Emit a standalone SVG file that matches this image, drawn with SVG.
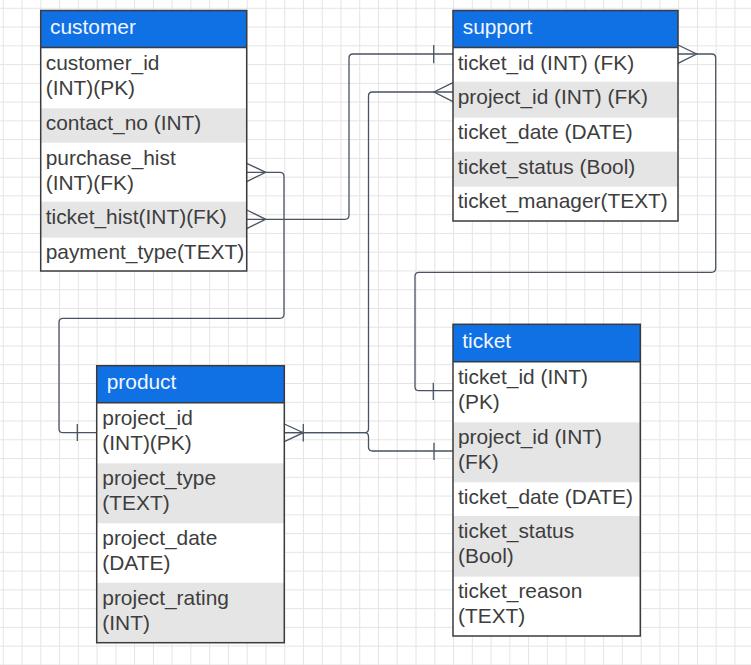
<svg xmlns="http://www.w3.org/2000/svg" width="751" height="665" viewBox="0 0 751 665">
<style>
.hd{fill:#1071e5}
.gr{fill:#e5e5e5}
.box{fill:none;stroke:#3b3b3b;stroke-width:1.5}
.hl{stroke:#3b3b3b;stroke-width:1.5}
.t{font-family:"Liberation Sans",Arial,sans-serif;font-size:20.9px;fill:#3d3d3d}
.h{font-family:"Liberation Sans",Arial,sans-serif;font-size:20.9px;fill:#f2f6ff}
.c{fill:none;stroke:#4a5361;stroke-width:1.3}
</style>
<defs>
<pattern id="grid" patternUnits="userSpaceOnUse" x="2.8" y="7.8" width="18.76" height="18.76">
<path d="M0.5 0V18.76M0 0.5H18.76" fill="none" stroke="#e4e4e4" stroke-width="1"/>
</pattern>
</defs>
<rect width="751" height="665" fill="#fff"/>
<rect width="751" height="665" fill="url(#grid)"/>

<g id="connectors">
<path class="c" d="M246.7 172.3H280Q284 172.3 284 176.3V314.3Q284 318.3 280 318.3H63Q59 318.3 59 322.3V428.7Q59 432.7 63 432.7H96.7"/>
<path class="c" d="M246.7 163.3L265.7 172.3L246.7 181.7M77.3 424V441"/>
<path class="c" d="M246.7 219.3H345Q349 219.3 349 215.3V58Q349 54 353 54H453"/>
<path class="c" d="M246.7 210L265.7 219.3L246.7 228.7M433.7 45V63.3"/>
<path class="c" d="M284.3 432.7H364.5Q368.5 432.7 368.5 428.7V96Q368.5 92 372.5 92H453"/>
<path class="c" d="M453 82.7L434 92L453 101.7M284.3 424L303.3 432.7L284.3 441.7M303.3 424V441.5"/>
<path class="c" d="M284.3 432.7H364.5Q368.5 432.7 368.5 436.7V447Q368.5 451 372.5 451H453"/>
<path class="c" d="M434 442.7V460"/>
<path class="c" d="M678 54H711.7Q715.7 54 715.7 58V268.3Q715.7 272.3 711.7 272.3H419Q415 272.3 415 276.3V386.7Q415 390.7 419 390.7H453"/>
<path class="c" d="M678 45L696.7 54L678 63.3M433.3 382.7V400"/>
</g>

<g id="customer">
<rect x="40.7" y="10.5" width="206" height="260.5" fill="#fff"/>
<rect class="hd" x="40.7" y="10.5" width="206" height="37"/>
<rect class="gr" x="40.7" y="108.3" width="206" height="34.4"/>
<rect class="gr" x="40.7" y="201.7" width="206" height="36"/>
<line class="hl" x1="40.7" y1="47.5" x2="246.7" y2="47.5"/>
<rect class="box" x="40.7" y="10.5" width="206" height="260.5"/>
<text class="h" x="50" y="34">customer</text>
<text class="t" x="45.7" y="70">customer_id</text>
<text class="t" x="45.7" y="95">(INT)(PK)</text>
<text class="t" x="45.7" y="129.5">contact_no (INT)</text>
<text class="t" x="45.7" y="164.5">purchase_hist</text>
<text class="t" x="45.7" y="189.5">(INT)(FK)</text>
<text class="t" x="45.7" y="224">ticket_hist(INT)(FK)</text>
<text class="t" x="45.7" y="258.5">payment_type(TEXT)</text>
</g>

<g id="support">
<rect x="453" y="10.5" width="225" height="210.5" fill="#fff"/>
<rect class="hd" x="453" y="10.5" width="225" height="37"/>
<rect class="gr" x="453" y="81.7" width="225" height="36"/>
<rect class="gr" x="453" y="151.7" width="225" height="35"/>
<line class="hl" x1="453" y1="47.5" x2="678" y2="47.5"/>
<rect class="box" x="453" y="10.5" width="225" height="210.5"/>
<text class="h" x="462.7" y="34">support</text>
<text class="t" x="457.7" y="70">ticket_id (INT) (FK)</text>
<text class="t" x="457.7" y="104">project_id (INT) (FK)</text>
<text class="t" x="457.7" y="138.5">ticket_date (DATE)</text>
<text class="t" x="457.7" y="173.5">ticket_status (Bool)</text>
<text class="t" x="457.7" y="207.5">ticket_manager(TEXT)</text>
</g>

<g id="product">
<rect x="96.7" y="365.7" width="187.6" height="277" fill="#fff"/>
<rect class="hd" x="96.7" y="365.7" width="187.6" height="37"/>
<rect class="gr" x="96.7" y="463.3" width="187.6" height="60"/>
<rect class="gr" x="96.7" y="582.7" width="187.6" height="60"/>
<line class="hl" x1="96.7" y1="402.7" x2="284.3" y2="402.7"/>
<rect class="box" x="96.7" y="365.7" width="187.6" height="277"/>
<text class="h" x="106.7" y="389">product</text>
<text class="t" x="102.3" y="425">project_id</text>
<text class="t" x="102.3" y="450">(INT)(PK)</text>
<text class="t" x="102.3" y="484.5">project_type</text>
<text class="t" x="102.3" y="509.5">(TEXT)</text>
<text class="t" x="102.3" y="544.5">project_date</text>
<text class="t" x="102.3" y="569.5">(DATE)</text>
<text class="t" x="102.3" y="604.5">project_rating</text>
<text class="t" x="102.3" y="629.5">(INT)</text>
</g>

<g id="ticket">
<rect x="453" y="324.3" width="187.3" height="311.7" fill="#fff"/>
<rect class="hd" x="453" y="324.3" width="187.3" height="37.4"/>
<rect class="gr" x="453" y="422.3" width="187.3" height="60"/>
<rect class="gr" x="453" y="516" width="187.3" height="60.7"/>
<line class="hl" x1="453" y1="361.7" x2="640.3" y2="361.7"/>
<rect class="box" x="453" y="324.3" width="187.3" height="311.7"/>
<text class="h" x="462.3" y="347.5">ticket</text>
<text class="t" x="458" y="383.5">ticket_id (INT)</text>
<text class="t" x="458" y="408.5">(PK)</text>
<text class="t" x="458" y="443.5">project_id (INT)</text>
<text class="t" x="458" y="468.5">(FK)</text>
<text class="t" x="458" y="503.5">ticket_date (DATE)</text>
<text class="t" x="458" y="538">ticket_status</text>
<text class="t" x="458" y="563">(Bool)</text>
<text class="t" x="458" y="597.5">ticket_reason</text>
<text class="t" x="458" y="622.5">(TEXT)</text>
</g>
</svg>
